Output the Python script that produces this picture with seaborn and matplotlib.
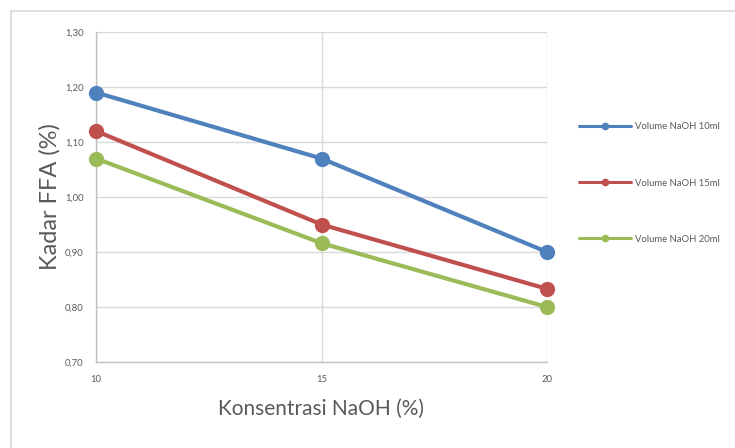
import matplotlib
matplotlib.use("Agg")
import matplotlib.pyplot as plt
import seaborn as sns
import pandas as pd
from matplotlib.lines import Line2D
from matplotlib.patches import Rectangle
from matplotlib.ticker import FuncFormatter

konsentrasi = [10, 15, 20]
series_names = ["Volume NaOH 10ml", "Volume NaOH 15ml", "Volume NaOH 20ml"]
vol10 = [1.19, 1.07, 0.90]
vol15 = [1.12, 0.95, 0.833]
vol20 = [1.07, 0.916, 0.80]
colors = ["#4F81BD", "#C0504D", "#9BBB59"]
y_ticks = [0.70, 0.80, 0.90, 1.00, 1.10, 1.20, 1.30]

rows = []
for name, vals in zip(series_names, [vol10, vol15, vol20]):
    for x, v in zip(konsentrasi, vals):
        rows.append({"x": x, "y": v, "series": name})
df = pd.DataFrame(rows)

sns.set_style("white")
plt.rcParams["font.family"] = ["Lato", "DejaVu Sans"]
text_color = "#595959"

fig = plt.figure(figsize=(7.35, 4.48), dpi=100)
ax = fig.add_axes([96/735, 1-362/448, (547-96)/735, (362-32)/448])

sns.lineplot(data=df, x="x", y="y", hue="series", palette=colors,
             marker="o", markersize=11, linewidth=3, markeredgewidth=0,
             ax=ax, legend=False, zorder=3)

ax.set_xlim(10, 20)
ax.set_ylim(0.70, 1.30)
ax.set_xticks(konsentrasi)
ax.set_yticks(y_ticks)
ax.yaxis.set_major_formatter(FuncFormatter(lambda v, p: f"{v:.2f}".replace(".", ",")))
ax.grid(True, color="#D9D9D9", linewidth=1)
ax.set_axisbelow(True)
for s in ["top", "right"]:
    ax.spines[s].set_visible(False)
for s in ["left", "bottom"]:
    ax.spines[s].set_color("#BFBFBF")
    ax.spines[s].set_linewidth(1)
ax.tick_params(axis="both", length=0, labelsize=6.8, colors=text_color)
ax.tick_params(axis="x", pad=9)
ax.tick_params(axis="y", pad=9)
for line in ax.lines:
    line.set_clip_on(False)

ax.set_xlabel("Konsentrasi NaOH (%)", fontsize=15, color=text_color, labelpad=11)
ax.set_ylabel("Kadar FFA (%)", fontsize=17, color=text_color, labelpad=3)

handles = [Line2D([0], [0], color=c, linewidth=2.2, marker="o", markersize=5.5,
                  markeredgewidth=0) for c in colors]
leg = fig.legend(handles, series_names, loc="center left",
                 bbox_to_anchor=(570/735, 1-183/448), frameon=False,
                 fontsize=6.8, labelcolor=text_color, handlelength=5.6,
                 labelspacing=5.0, handletextpad=0.35)

fig.patches.append(Rectangle((11/735, -0.1), 1.2, 1-11/448+0.1,
                             transform=fig.transFigure, fill=False,
                             edgecolor="#D9D9D9", linewidth=1.2))

fig.savefig("out.png", dpi=100, facecolor="white")
